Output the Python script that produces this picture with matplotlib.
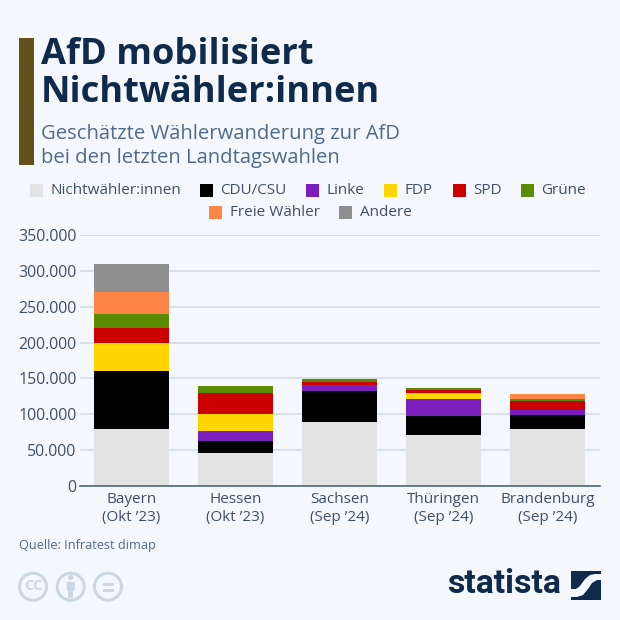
import matplotlib
matplotlib.use("Agg")
import matplotlib.pyplot as plt
from matplotlib.patches import Circle, Polygon, Rectangle, FancyBboxPatch

plt.rcParams['font.family'] = ['Open Sans', 'DejaVu Sans']

# Daten
laender = ['Bayern\n(Okt ’23)', 'Hessen\n(Okt ’23)', 'Sachsen\n(Sep ’24)', 'Thüringen\n(Sep ’24)', 'Brandenburg\n(Sep ’24)']
nichtwaehler = [80000, 46000, 89000, 70500, 79000]
cdu = [80000, 17000, 43500, 27500, 20500]
linke = [0, 14000, 8500, 23000, 6000]
fdp = [40000, 24000, 0, 8000, 0]
spd = [20000, 29000, 4500, 5500, 12500]
gruene = [20000, 9000, 4000, 1500, 3000]
freie = [30000, 0, 0, 0, 7000]
andere = [40000, 0, 0, 0, 0]

parteien = ['Nichtwähler:innen', 'CDU/CSU', 'Linke', 'FDP', 'SPD', 'Grüne', 'Freie Wähler', 'Andere']
farben = ['#e3e3e3', '#000000', '#7a1fbd', '#ffd500', '#cc0000', '#5c8a00', '#ff8547', '#8f8f8f']
werte = [nichtwaehler, cdu, linke, fdp, spd, gruene, freie, andere]
y_ticks = [0, 50000, 100000, 150000, 200000, 250000, 300000, 350000]
y_labels = ['0', '50.000', '100.000', '150.000', '200.000', '250.000', '300.000', '350.000']

BG = '#f4f8fc'
NAVY = '#0f2a4a'
TEXT = '#3d5069'
SUB = '#4f6a8a'

fig = plt.figure(figsize=(6.2, 6.2), dpi=100, facecolor=BG)

# Ebene in Pixeln fuer Titel, Legende und Logo
deko = fig.add_axes([0, 0, 1, 1])
deko.set_xlim(0, 620)
deko.set_ylim(620, 0)
deko.axis('off')

deko.add_patch(Rectangle((19, 38), 14.5, 127, color='#63511b', lw=0))
deko.text(41, 54.5, 'AfD mobilisiert', fontsize=26.1, fontweight='bold', color=NAVY, va='center')
deko.text(41, 93.5, 'Nichtwähler:innen', fontsize=26.1, fontweight='bold', color=NAVY, va='center')
deko.text(41, 134, 'Geschätzte Wählerwanderung zur AfD', fontsize=14.55, color=SUB, va='center')
deko.text(41, 158, 'bei den letzten Landtagswahlen', fontsize=14.55, color=SUB, va='center')

# Legende
leg_x = [30, 200, 306, 384, 452.5, 521, 209, 339]
leg_y = [190, 190, 190, 190, 190, 190, 212, 212]
for name, farbe, x, y in zip(parteien, farben, leg_x, leg_y):
    deko.add_patch(Rectangle((x, y - 6.5), 13, 13, color=farbe, lw=0))
    deko.text(x + 20.5, y + 0.5, name, fontsize=10.95, color=TEXT, va='center')

# Diagramm
ax = fig.add_axes([80 / 620, (620 - 486) / 620, 520 / 620, 251 / 620])
ax.patch.set_alpha(0)
x_pos = list(range(len(laender)))
unten = [0] * len(laender)
for name, farbe, reihe in zip(parteien, farben, werte):
    ax.bar(x_pos, reihe, bottom=unten, width=0.72, color=farbe, label=name, zorder=3)
    unten = [u + r for u, r in zip(unten, reihe)]

ax.set_xlim(-0.495, 4.505)
ax.set_ylim(0, 350000)
ax.set_yticks(y_ticks)
ax.set_yticklabels(y_labels, fontsize=11.4, color=TEXT)
ax.set_xticks(x_pos)
ax.set_xticklabels(laender, fontsize=11, color=TEXT, linespacing=1.28)
ax.tick_params(axis='both', length=0)
ax.tick_params(axis='y', pad=2.5)
ax.tick_params(axis='x', pad=4.5)
ax.grid(axis='y', color='#d2d9e1', lw=1.1, zorder=0)
ax.set_axisbelow(True)
for s in ['top', 'right', 'left']:
    ax.spines[s].set_visible(False)
ax.spines['bottom'].set_color('#50657f')
ax.spines['bottom'].set_linewidth(1.2)
ax.spines['bottom'].set_zorder(5)

deko.text(19, 545, 'Quelle: Infratest dimap', fontsize=9.2, color=SUB, va='center')

# CC-Symbole
ICON = '#cbd8e1'
for cx in [33, 70.7, 108]:
    deko.add_patch(Circle((cx, 586.7), 13.5, fill=False, ec=ICON, lw=2.2))
deko.text(33, 586, 'CC', fontsize=10.5, fontweight='bold', color=ICON, ha='center', va='center')
deko.add_patch(Circle((70.7, 577.5), 2.7, color=ICON, lw=0))
deko.add_patch(FancyBboxPatch((67.5, 582.5), 6.4, 7.5, boxstyle='round,pad=0.8', color=ICON, lw=0))
deko.add_patch(Rectangle((68.3, 589), 4.8, 9, color=ICON, lw=0))
deko.add_patch(Rectangle((102.5, 583), 11, 3, color=ICON, lw=0))
deko.add_patch(Rectangle((102.5, 588.5), 11, 3, color=ICON, lw=0))

# Statista-Logo
deko.text(561, 584, 'statista', fontsize=24.3, fontweight='bold', color=NAVY, ha='right', va='center',
          family=['Roboto', 'DejaVu Sans'])
deko.add_patch(Rectangle((570.5, 570.7), 30.5, 29.5, color=NAVY, lw=0))
deko.add_patch(Polygon([(570.5, 589), (576, 589), (580, 586), (585, 579), (590, 575), (595, 574), (601, 574),
                        (601, 580), (597, 580), (592, 583), (588, 589), (583, 595), (577, 597), (570.5, 597)],
                       color=BG, lw=0))

fig.savefig('out.png', dpi=100, facecolor=BG)
